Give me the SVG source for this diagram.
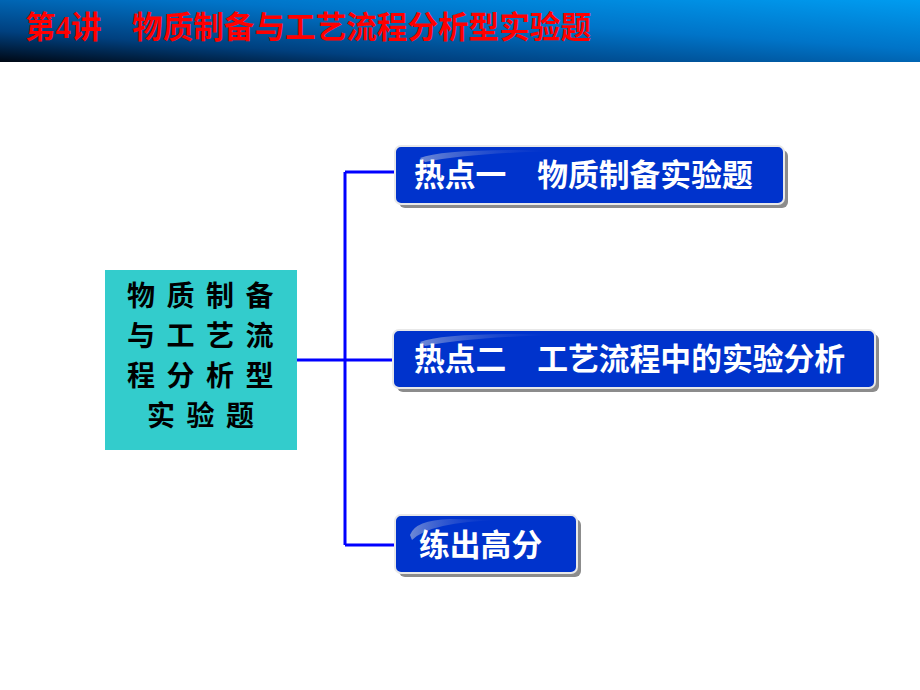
<svg xmlns="http://www.w3.org/2000/svg" width="920" height="690" viewBox="0 0 920 690">
<defs>
<linearGradient id="hdr" x1="0" y1="1" x2="1" y2="0">
<stop offset="0" stop-color="#000814"/>
<stop offset="0.25" stop-color="#00407f"/>
<stop offset="0.6" stop-color="#0074c8"/>
<stop offset="1" stop-color="#009cf0"/>
</linearGradient>
<linearGradient id="gloss" x1="0" y1="0" x2="1" y2="0">
<stop offset="0" stop-color="#8a9fd8" stop-opacity="0.8"/>
<stop offset="1" stop-color="#1f45cc" stop-opacity="0"/>
</linearGradient>
<style>
.title{font-family:"Liberation Serif","Noto Sans CJK SC",serif;font-weight:bold;font-size:30.6px;fill:#ff0000}
.btn{fill:#0033cc;stroke:#e8e8e8;stroke-width:2}
.shadow{fill:#8c8c8c}
.bt{font-family:"Noto Sans CJK SC",sans-serif;font-weight:bold;font-size:30.8px;fill:#ffffff}
.ct{font-family:"Noto Sans CJK SC",sans-serif;font-weight:bold;font-size:28px;fill:#000000;letter-spacing:11.5px}
.ln{stroke:#0000ff;stroke-width:3;fill:none}
</style>
</defs>
<rect width="920" height="690" fill="#ffffff"/>
<g id="header">
<rect x="0" y="0" width="920" height="62" fill="url(#hdr)"/>
<text class="title" x="25" y="38">第4讲　物质制备与工艺流程分析型实验题</text>
</g>
<g id="connectors">
<path class="ln" d="M297 360 H345 M345 172 V545 M345 172 H396 M345 360 H394 M345 545 H396"/>
</g>
<g id="center">
<rect x="105" y="270" width="192" height="180" fill="#33cccc"/>
<text class="ct" x="127" y="306">物质制备</text>
<text class="ct" x="127" y="346">与工艺流</text>
<text class="ct" x="127" y="386">程分析型</text>
<text class="ct" x="147" y="426">实验题</text>
</g>
<g id="node1">
<rect class="shadow" x="399" y="150" width="389" height="58" rx="6"/>
<rect class="btn" x="395" y="146" width="389" height="58" rx="6"/>
<path d="M420 158 Q440 150 520 150 L560 151 Q470 153 425 162 Z" fill="url(#gloss)"/>
<text class="bt" x="414" y="186">热点一　物质制备实验题</text>
</g>
<g id="node2">
<rect class="shadow" x="397" y="334" width="482" height="58" rx="6"/>
<rect class="btn" x="393" y="330" width="482" height="58" rx="6"/>
<path d="M420 342 Q440 334 520 334 L560 335 Q470 337 425 346 Z" fill="url(#gloss)"/>
<text class="bt" x="414" y="370">热点二　工艺流程中的实验分析</text>
</g>
<g id="node3">
<rect class="shadow" x="399" y="519" width="182" height="58" rx="6"/>
<rect class="btn" x="395" y="515" width="182" height="58" rx="6"/>
<path d="M410 535 Q415 520 450 519 L500 520 Q430 522 412 540 Z" fill="url(#gloss)"/>
<text class="bt" x="419" y="556">练出高分</text>
</g>
</svg>
